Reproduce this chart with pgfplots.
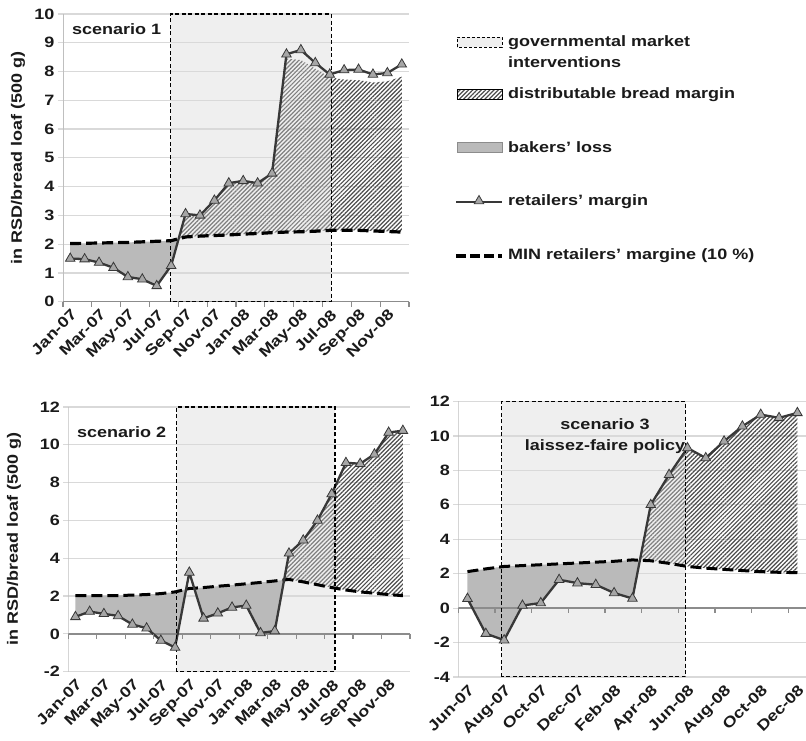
\documentclass[border=0pt]{standalone}
\usepackage{fontspec}
\setmainfont{Liberation Sans}[FakeStretch=1.2]
\usepackage{pgfplots}
\pgfplotsset{compat=1.18}
\usepackage{pgfplotstable}
\usepgfplotslibrary{fillbetween}
\usetikzlibrary{patterns.meta,shapes.geometric}

\definecolor{txt}{HTML}{1A1A1A}
\definecolor{gridc}{HTML}{D9D9D9}
\definecolor{axc}{HTML}{BFBFBF}
\definecolor{zeroc}{HTML}{8C8C8C}
\definecolor{boxc}{HTML}{EFEFEF}
\definecolor{lossc}{HTML}{BABABA}
\definecolor{linec}{HTML}{383838}
\definecolor{markc}{HTML}{A6A6A6}
\definecolor{hatchin}{HTML}{808080}
\definecolor{hatchout}{HTML}{4D4D4D}

\newcommand\lbl{\fontsize{15bp}{18bp}\selectfont\bfseries}

% scenario 1: x = month index (Jan-07 = 0), m = retailers' margin, n = MIN margin, h = top of hatched area
\pgfplotstableread{
x m n h
0 1.50 2.02 1.50
1 1.48 2.03 1.48
2 1.36 2.04 1.36
3 1.18 2.05 1.18
4 0.86 2.06 0.86
5 0.78 2.08 0.78
6 0.55 2.10 0.55
7 1.25 2.12 1.25
8 3.05 2.25 3.05
9 3.00 2.28 3.00
10 3.52 2.30 3.52
11 4.12 2.32 4.12
12 4.20 2.35 4.20
13 4.12 2.37 4.12
14 4.46 2.40 4.46
15 8.60 2.42 8.45
16 8.75 2.43 8.40
17 8.30 2.45 8.10
18 7.90 2.48 7.80
19 8.05 2.48 7.72
20 8.07 2.48 7.70
21 7.90 2.46 7.62
22 7.95 2.44 7.66
23 8.25 2.42 7.82
}\sone

% scenario 2: Jan-07 = 0
\pgfplotstableread{
x m n
0 0.90 2.02
1 1.18 2.02
2 1.06 2.02
3 0.95 2.03
4 0.50 2.05
5 0.30 2.08
6 -0.35 2.13
7 -0.72 2.22
8 3.25 2.40
9 0.82 2.45
10 1.09 2.52
11 1.40 2.58
12 1.50 2.65
13 0.05 2.72
14 0.15 2.80
15 4.26 2.88
16 4.95 2.75
17 6.00 2.60
18 7.40 2.45
19 9.05 2.32
20 9.00 2.22
21 9.50 2.15
22 10.65 2.08
23 10.75 2.02
}\stwo

% scenario 3: Jun-07 = 0
\pgfplotstableread{
x m n
0 0.55 2.12
1 -1.48 2.28
2 -1.86 2.42
3 0.15 2.47
4 0.30 2.52
5 1.65 2.57
6 1.45 2.62
7 1.36 2.67
8 0.88 2.72
9 0.56 2.80
10 6.00 2.75
11 7.75 2.60
12 9.30 2.42
13 8.72 2.32
14 9.69 2.25
15 10.56 2.18
16 11.24 2.12
17 11.05 2.08
18 11.34 2.06
}\sthree

\pgfplotsset{
  panel/.style={
    scale only axis,
    anchor=south west,
    axis line style={draw=none},
    ymajorgrids,
    grid style={gridc, line width=1.2bp},
    tick pos=left,
    tick align=outside,
    major tick length=5bp,
    ytick style={draw=gridc, line width=1.2bp},
    xtick style={draw=none},
    ticklabel style={font=\lbl, text=txt},
    /pgf/number format/assume math mode=true,
    xticklabel style={rotate=45, anchor=north east, inner sep=1bp},
  },
  marg/.style={linec, line width=2.3bp, mark=triangle*, mark size=5.5bp,
    mark options={fill=markc, draw=linec, line width=0.8bp, solid}},
  minm/.style={black, line width=3.2bp, dash pattern=on 11bp off 5bp},
  boxfill/.style={fill=boxc, draw=none, on layer=axis background},
  boxline/.style={black, line width=1.3bp, dash pattern=on 4bp off 2.5bp},
  hin/.style={pattern={Lines[angle=45,distance=3bp,line width=1.2bp]}, pattern color=hatchin},
  hout/.style={pattern={Lines[angle=45,distance=3bp,line width=1.2bp]}, pattern color=hatchout},
  zt/.style={draw=none, mark=|, mark size=2.5bp, mark options={zeroc, line width=1.2bp, yshift=-2.5bp}},
}

\begin{document}
\begin{tikzpicture}

% ---------------- scenario 1 ----------------
\begin{axis}[panel, at={(63bp,439.3bp)}, width=346bp, height=287.7bp,
  xmin=-0.5, xmax=23.5, ymin=0, ymax=10, ytick={0,1,...,10},
  xtick={0,2,...,22},
  xticklabels={Jan-07,Mar-07,May-07,Jul-07,Sep-07,Nov-07,Jan-08,Mar-08,May-08,Jul-08,Sep-08,Nov-08}]
  \addplot[boxfill] coordinates {(6.95,0) (18.1,0) (18.1,10) (6.95,10)} \closedcycle;
  \addplot[draw=none, name path=m1] table[x=x,y=m] {\sone};
  \addplot[draw=none, name path=n1] table[x=x,y=n] {\sone};
  \addplot[draw=none, name path=h1] table[x=x,y=h] {\sone};
  \addplot[fill=lossc, draw=none] fill between[of=n1 and m1, soft clip={domain=0:7.521}];
  \addplot[hin, draw=none] fill between[of=n1 and h1, soft clip={domain=7.521:18.1}];
  \addplot[hout, draw=none] fill between[of=n1 and h1, soft clip={domain=18.1:23}];
  \addplot[axc, line width=1.2bp] coordinates {(-0.5,0) (-0.5,10)};
  \addplot[zeroc, line width=1.5bp] coordinates {(-0.5,0) (23.5,0)};
  \addplot[zt] coordinates {(-0.5,0)(1.5,0)(3.5,0)(5.5,0)(7.5,0)(9.5,0)(11.5,0)(13.5,0)(15.5,0)(17.5,0)(19.5,0)(21.5,0)(23.5,0)};
  \addplot[minm] table[x=x,y=n] {\sone};
  \addplot[marg] table[x=x,y=m] {\sone};
  \addplot[boxline] coordinates {(6.95,0) (6.95,10) (18.1,10) (18.1,0) (6.95,0)};
\end{axis}

% ---------------- scenario 2 ----------------
\begin{axis}[panel, at={(68.3bp,69.3bp)}, width=341.7bp, height=264.7bp,
  xmin=-0.5, xmax=23.5, ymin=-2, ymax=12, ytick={-2,0,...,12},
  xtick={0,2,...,22},
  xticklabels={Jan-07,Mar-07,May-07,Jul-07,Sep-07,Nov-07,Jan-08,Mar-08,May-08,Jul-08,Sep-08,Nov-08}]
  \addplot[boxfill] coordinates {(7.11,-2) (18.23,-2) (18.23,12) (7.11,12)} \closedcycle;
  \addplot[draw=none, name path=m2] table[x=x,y=m] {\stwo};
  \addplot[draw=none, name path=n2] table[x=x,y=n] {\stwo};
  \addplot[fill=lossc, draw=none] fill between[of=n2 and m2, soft clip={domain=0:7.776}];
  \addplot[fill=lossc, draw=none] fill between[of=n2 and m2, soft clip={domain=8.343:14.658}];
  \addplot[hin, draw=none] fill between[of=n2 and m2, soft clip={domain=14.658:18.23}];
  \addplot[hout, draw=none] fill between[of=n2 and m2, soft clip={domain=18.23:23}];
  \addplot[axc, line width=1.2bp] coordinates {(-0.5,-2) (-0.5,12)};
  \addplot[zeroc, line width=1.5bp] coordinates {(-0.5,0) (23.5,0)};
  \addplot[zt] coordinates {(-0.5,0)(1.5,0)(3.5,0)(5.5,0)(7.5,0)(9.5,0)(11.5,0)(13.5,0)(15.5,0)(17.5,0)(19.5,0)(21.5,0)(23.5,0)};
  \addplot[minm, line width=3bp] table[x=x,y=n] {\stwo};
  \addplot[marg] table[x=x,y=m] {\stwo};
  \addplot[boxline] coordinates {(7.11,-2) (7.11,12) (18.23,12) (18.23,-2) (7.11,-2)};
\end{axis}

% ---------------- scenario 3 ----------------
\begin{axis}[panel, at={(458.3bp,64bp)}, width=347.7bp, height=275.5bp,
  xmin=-0.5, xmax=18.47, ymin=-4, ymax=12, ytick={-4,-2,...,12},
  xtick={0,2,...,18},
  xticklabels={Jun-07,Aug-07,Oct-07,Dec-07,Feb-08,Apr-08,Jun-08,Aug-08,Oct-08,Dec-08}]
  \addplot[boxfill] coordinates {(1.87,-4) (11.9,-4) (11.9,12) (1.87,12)} \closedcycle;
  \addplot[draw=none, name path=m3] table[x=x,y=m] {\sthree};
  \addplot[draw=none, name path=n3] table[x=x,y=n] {\sthree};
  \addplot[fill=lossc, draw=none] fill between[of=n3 and m3, soft clip={domain=0:9.408}];
  \addplot[hin, draw=none] fill between[of=n3 and m3, soft clip={domain=9.408:11.9}];
  \addplot[hout, draw=none] fill between[of=n3 and m3, soft clip={domain=11.9:18}];
  \addplot[axc, line width=1.2bp] coordinates {(-0.5,-4) (-0.5,12)};
  \addplot[zeroc, line width=1.5bp] coordinates {(-0.5,0) (18.47,0)};
  \addplot[zt] coordinates {(-0.5,0)(1.5,0)(3.5,0)(5.5,0)(7.5,0)(9.5,0)(11.5,0)(13.5,0)(15.5,0)(17.5,0)};
  \addplot[minm, line width=3bp] table[x=x,y=n] {\sthree};
  \addplot[marg] table[x=x,y=m] {\sthree};
  \addplot[boxline] coordinates {(1.87,-4) (1.87,12) (11.9,12) (11.9,-4) (1.87,-4)};
\end{axis}

% ---------------- texts ----------------
\node[rotate=90, font=\lbl, text=txt, inner sep=0] at (18bp,583bp) {in RSD/bread loaf (500 g)};
\node[rotate=90, font=\lbl, text=txt, inner sep=0] at (14bp,202bp) {in RSD/bread loaf (500 g)};
\node[anchor=west, font=\lbl, text=txt, inner sep=0] at (72bp,712bp) {scenario 1};
\node[anchor=west, font=\lbl, text=txt, inner sep=0] at (77bp,309bp) {scenario 2};
\node[font=\lbl, text=txt, inner sep=0, align=center] at (605bp,305bp) {scenario 3\\[3bp]laissez-faire policy};

% ---------------- legend ----------------
\fill[boxc] (457bp,694bp) rectangle (502bp,704bp);
\draw[black, line width=0.8bp, dash pattern=on 3bp off 2bp] (457bp,694bp) rectangle (502bp,704bp);
\node[anchor=base west, font=\lbl, text=txt, inner sep=0] at (508bp,694bp) {governmental market};
\node[anchor=base west, font=\lbl, text=txt, inner sep=0] at (508bp,673bp) {interventions};

\path[pattern={Lines[angle=45,distance=3bp,line width=1.2bp]}, pattern color=hatchout] (457bp,641bp) rectangle (502bp,651bp);
\draw[black, line width=1bp] (457bp,641bp) rectangle (502bp,651bp);
\node[anchor=base west, font=\lbl, text=txt, inner sep=0] at (508bp,642bp) {distributable bread margin};

\fill[lossc] (457bp,588bp) rectangle (502bp,598bp);
\draw[zeroc, line width=1bp] (457bp,588bp) rectangle (502bp,598bp);
\node[anchor=base west, font=\lbl, text=txt, inner sep=0] at (508bp,588bp) {bakers' loss};

\draw[linec, line width=2.5bp] (456bp,539bp) -- (502bp,539bp);
\node[regular polygon, regular polygon sides=3, fill=markc, draw=linec, line width=0.8bp,
  minimum size=11bp, inner sep=0] at (479bp,540bp) {};
\node[anchor=base west, font=\lbl, text=txt, inner sep=0] at (508bp,535bp) {retailers' margin};

\draw[black, line width=3.2bp, dash pattern=on 10bp off 4bp] (456bp,485bp) -- (502bp,485bp);
\node[anchor=base west, font=\lbl, text=txt, inner sep=0] at (508bp,481bp) {MIN retailers' margine (10 \%)};

\pgfresetboundingbox
\path[use as bounding box] (0,0) rectangle (806bp,741bp);
\end{tikzpicture}
\end{document}
